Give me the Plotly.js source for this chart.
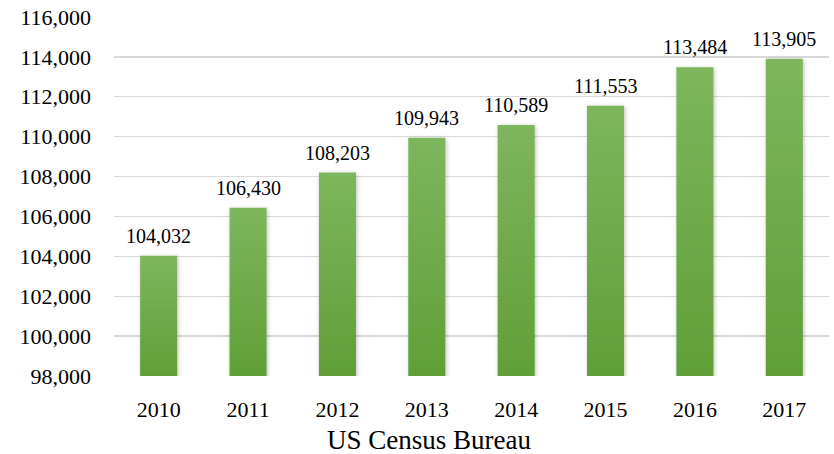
<!DOCTYPE html>
<html>
<head>
<meta charset="utf-8">
<script src="https://cdn.plot.ly/plotly-3.0.1.min.js"></script>
<style>
html,body{margin:0;padding:0;background:#fff;}
#chart{width:834px;height:454px;}
</style>
</head>
<body>
<div id="chart"></div>
<script>
const years = ["2010","2011","2012","2013","2014","2015","2016","2017"];
const values = [104032,106430,108203,109943,110589,111553,113484,113905];
const valueLabels = ["104,032","106,430","108,203","109,943","110,589","111,553","113,484","113,905"];
const yTickVals = [98000,100000,102000,104000,106000,108000,110000,112000,114000,116000];
const yTickText = ["98,000","100,000","102,000","104,000","106,000","108,000","110,000","112,000","114,000","116,000"];
const sourceLabel = "US Census Bureau";

const FONT = "'Liberation Serif', 'Times New Roman', serif";

const trace = {
  type: "bar",
  x: years,
  y: values,
  marker: {color: "#6eab47", line: {width: 0}},
  hoverinfo: "none"
};

// annotations placed on the category axis by category index
const labelAnnotations = years.map((yr, i) => ({
  x: i, y: values[i], xref: "x", yref: "y",
  text: valueLabels[i], showarrow: false,
  xanchor: "center", yanchor: "bottom", yshift: 7,
  font: {family: FONT, size: 20, color: "#000"}
}));

const layout = {
  width: 834, height: 454,
  margin: {l: 114, r: 5, t: 17, b: 78},
  paper_bgcolor: "#fff",
  plot_bgcolor: "#fff",
  showlegend: false,
  bargap: 0.585,
  font: {family: FONT, color: "#000"},
  xaxis: {
    type: "category",
    categoryarray: years, categoryorder: "array",
    range: [-0.5, years.length - 0.5], autorange: false,
    tickfont: {family: FONT, size: 22, color: "#000"},
    showgrid: false, zeroline: false, showline: false,
    ticks: "", ticklabelstandoff: 18
  },
  yaxis: {
    range: [98000, 116000], autorange: false,
    tickvals: yTickVals, ticktext: yTickText,
    tickfont: {family: FONT, size: 22, color: "#000"},
    showgrid: true, gridcolor: "#d9d9d9", gridwidth: 1.3,
    zeroline: false, showline: false, ticks: "",
    ticklabelstandoff: 22
  },
  annotations: labelAnnotations.concat([{
    text: sourceLabel, xref: "paper", yref: "paper",
    x: 0.441, y: 0, xanchor: "center", yanchor: "top", yshift: -47,
    showarrow: false, font: {family: FONT, size: 27, color: "#000"}
  }])
};

Plotly.newPlot("chart", [trace], layout, {displayModeBar: false, staticPlot: true}).then(gd => {
  const svg = gd.querySelector("svg.main-svg");
  const ns = "http://www.w3.org/2000/svg";
  let defs = svg.querySelector("defs");
  if (!defs) { defs = document.createElementNS(ns, "defs"); svg.insertBefore(defs, svg.firstChild); }
  const ya = gd._fullLayout.yaxis;
  const yBottom = ya.l2p(ya.range[0]);
  const filt = document.createElementNS(ns, "filter");
  filt.setAttribute("id", "barShadow");
  filt.setAttribute("x", "-30%"); filt.setAttribute("y", "-10%");
  filt.setAttribute("width", "160%"); filt.setAttribute("height", "120%");
  filt.innerHTML = '<feDropShadow dx="1" dy="1" stdDeviation="2" flood-color="#000" flood-opacity="0.25"/>';
  defs.appendChild(filt);
  gd.querySelectorAll(".bars .point path").forEach((p, i) => {
    const grad = document.createElementNS(ns, "linearGradient");
    grad.setAttribute("id", "barGrad" + i);
    grad.setAttribute("gradientUnits", "userSpaceOnUse");
    grad.setAttribute("x1", "0"); grad.setAttribute("x2", "0");
    grad.setAttribute("y1", String(ya.l2p(values[i])));
    grad.setAttribute("y2", String(yBottom));
    [["0", "#7db65d"], ["1", "#609f37"]].forEach(([o, c]) => {
      const s = document.createElementNS(ns, "stop");
      s.setAttribute("offset", o); s.setAttribute("stop-color", c);
      grad.appendChild(s);
    });
    defs.appendChild(grad);
    p.style.fill = "url(#barGrad" + i + ")";
    p.setAttribute("filter", "url(#barShadow)");
  });
});
</script>
</body>
</html>
